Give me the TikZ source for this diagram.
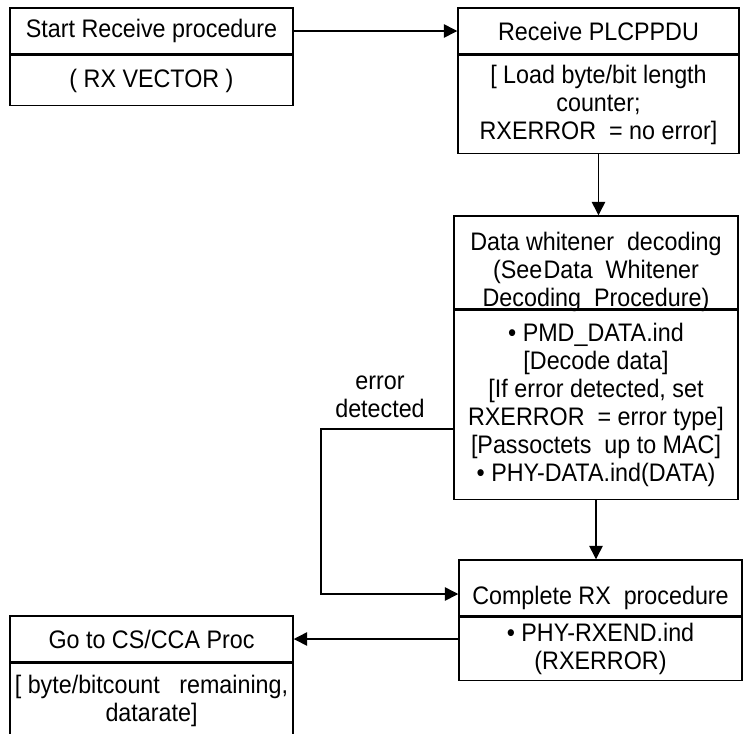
\documentclass[tikz,border=0pt]{standalone}
\usepackage{fontspec}
\setmainfont[FakeStretch=0.92]{Liberation Sans}
\usetikzlibrary{positioning,arrows.meta}

\begin{document}
\begin{tikzpicture}[
    x=0.75pt, y=-0.75pt,
    every node/.style={font=\fontsize{19pt}{21pt}\selectfont},
    headbox/.style={draw, line width=1.1pt, align=center, inner sep=2pt},
    bodybox/.style={draw, line width=1.1pt, align=center, inner sep=2pt},
    flow/.style={line width=1.1pt, -{Triangle[length=10pt, width=10pt]}}
]
    \clip (0,0) rectangle (743,733);

    % Start receive
    \node[headbox, minimum width=212.25pt, minimum height=34.5pt] (starthead) at (151.5,31) {Start Receive procedure};
    \node[bodybox, minimum width=212.25pt, minimum height=37.5pt, below=0pt of starthead] (startbody) {( RX VECTOR )};

    % Receive PLCP
    \node[headbox, minimum width=210.75pt, minimum height=34.5pt] (recvhead) at (598.5,31) {Receive PLCPPDU};
    \node[bodybox, minimum width=210.75pt, minimum height=73.5pt, below=0pt of recvhead] (recvbody) {[ Load byte/bit length\\counter;\\RXERROR\ \ = no error]};

    % Whitener
    \node[headbox, text height=65.75pt, text depth=0pt, minimum width=213pt, minimum height=69.75pt] (whithead) at (596,262.5) {Data whitener\ \ decoding\\(See\kern1pt Data\ \ Whitener\\Decoding\ \ Procedure)};
    \node[bodybox, minimum width=213pt, minimum height=141.75pt, below=0pt of whithead] (whitbody) {• PMD\_DATA.ind\\{}[Decode data]\\{}[If error detected, set\\RXERROR\ \ = error type]\\{}[Passoctets\ \ up to MAC]\\• PHY-DATA.ind(DATA)};

    % Complete RX
    \node[headbox, text height=31pt, text depth=7pt, minimum width=212.25pt, minimum height=42pt] (comphead) at (600.5,588) {Complete RX\ \ procedure};
    \node[bodybox, minimum width=212.25pt, minimum height=47.25pt, below=0pt of comphead] (compbody) {• PHY-RXEND.ind\\(RXERROR)};

    % CS/CCA
    \node[headbox, minimum width=212.25pt, minimum height=34.5pt] (gohead) at (151.5,639) {Go to CS/CCA Proc};
    \node[bodybox, minimum width=212.25pt, minimum height=55.5pt, below=0pt of gohead] (gobody) {[ byte/bitcount\ \ \ remaining,\\datarate]};

    % Connectors
    \draw[flow] (starthead.east) -- (recvhead.west);
    \draw[flow] (recvbody.south) -- (recvbody.south |- whithead.north);
    \draw[flow] (whitbody.south) -- (whitbody.south |- comphead.north);
    \coordinate (errcorner) at (321,429);
    \draw[flow] (whitbody.west |- errcorner) -- (errcorner) |- ([yshift=-4.5pt]comphead.west);
    \node[align=center] (errlabel) at (380,397) {error\\detected};
    \draw[flow] (compbody.west |- gohead.east) -- (gohead.east);
\end{tikzpicture}
\end{document}
